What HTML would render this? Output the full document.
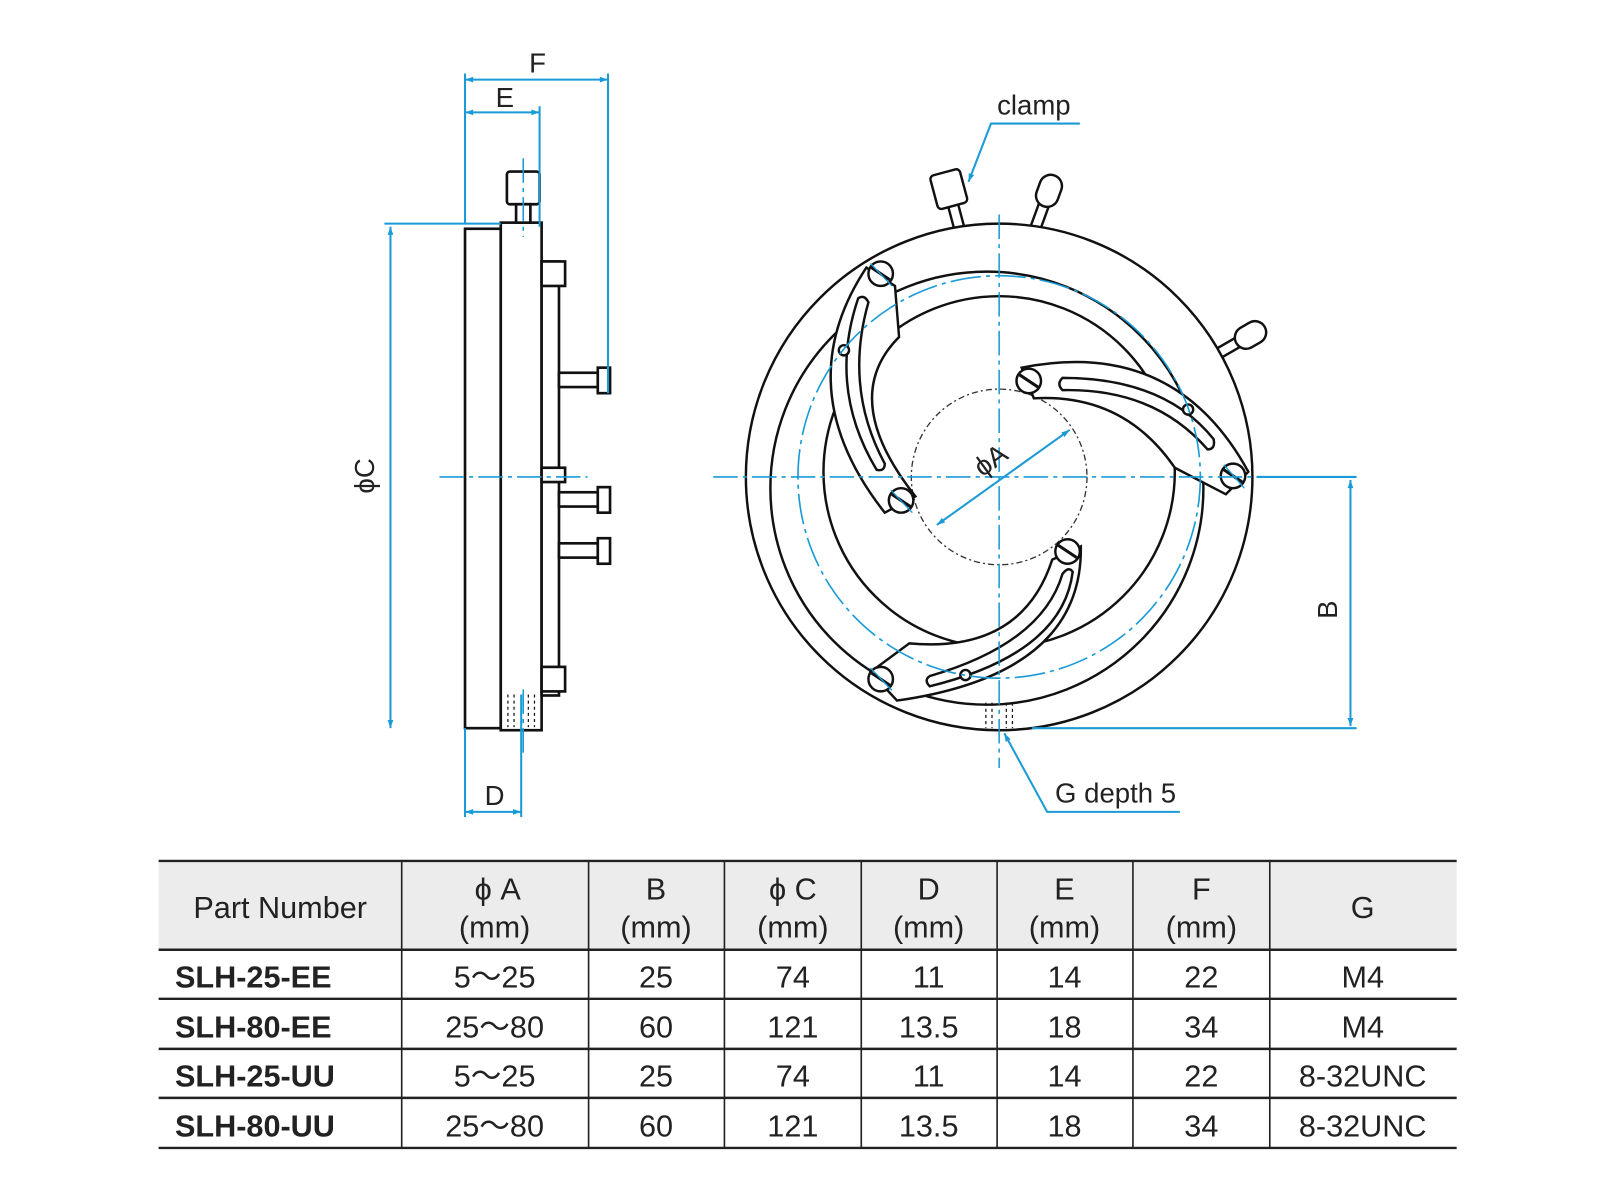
<!DOCTYPE html>
<html><head><meta charset="utf-8"><style>
html,body{margin:0;padding:0;background:#fff}
svg{display:block}
text{font-family:"Liberation Sans",sans-serif}
</style></head><body>
<svg width="1600" height="1200" viewBox="0 0 1566 1175" xmlns="http://www.w3.org/2000/svg">
<defs>
<marker id="ar" viewBox="0 0 10 10" refX="10" refY="5" markerWidth="12" markerHeight="8" orient="auto-start-reverse" markerUnits="userSpaceOnUse"><path d="M0,1.5 L10,5 L0,8.5 Z" fill="#1a9ad6"/></marker>
</defs>
<g fill="#fff" stroke="#111" stroke-width="2.6">
<rect x="455" y="224" width="35" height="489"/>
<rect x="490" y="218" width="40" height="497"/>
<rect x="530" y="256" width="17" height="425"/>
<rect x="496" y="168" width="32" height="32" rx="3"/>
<rect x="505" y="200" width="14" height="18"/>
<rect x="530" y="256" width="23" height="24"/>
<rect x="530" y="653" width="23" height="24"/>
<rect x="530" y="458" width="23" height="14"/>
<g>
<rect x="547" y="365" width="38" height="14"/><rect x="585" y="360" width="12" height="25"/>
<rect x="547" y="482" width="38" height="14"/><rect x="585" y="477" width="12" height="25"/>
<rect x="547" y="532" width="38" height="14"/><rect x="585" y="527" width="12" height="25"/>
</g>
</g>
<g stroke="#111" stroke-width="1.2" stroke-dasharray="3,3">
<line x1="497" y1="680" x2="497" y2="712"/><line x1="503" y1="680" x2="503" y2="712"/>
<line x1="517" y1="680" x2="517" y2="712"/><line x1="523" y1="680" x2="523" y2="712"/>
</g>
<g fill="#fff" stroke="#111" stroke-width="2.4">
<g transform="translate(930,190) rotate(-15)"><rect x="-5" y="10" width="10" height="28"/><rect x="-15" y="-22" width="30" height="34" rx="4"/></g>
<g transform="translate(1022,200) rotate(20)"><rect x="-5" y="0" width="10" height="28"/><rect x="-11" y="-30" width="22" height="32" rx="11"/></g>
<g transform="translate(1212,335) rotate(60)"><rect x="-5" y="0" width="10" height="28"/><rect x="-11" y="-30" width="22" height="32" rx="11"/></g>
<circle cx="978" cy="467" r="248"/>
<circle cx="966" cy="478" r="212" fill="none"/>
<circle cx="978" cy="462" r="172" fill="none"/>
</g>
<circle cx="978" cy="467" r="86" fill="none" stroke="#333" stroke-width="1.3" stroke-dasharray="6,3,2,3"/>
<g fill="#fff" stroke="#111" stroke-width="2.4">
<path d="M848,262 Q770,380 866,502 L896,486 Q820,390 880,330 L876,280 Z"/>
<path d="M840,292 Q810,380 858,460 Q866,462 866,454 Q826,380 850,296 Q846,288 840,292 Z"/>
<path d="M1000,360 Q1150,330 1222,462 L1200,484 L1150,458 Q1100,385 1012,390 Z"/>
<path d="M1040,370 Q1140,370 1188,430 Q1190,440 1182,440 Q1130,380 1040,382 Q1034,376 1040,370 Z"/>
<path d="M1058,535 Q1060,660 878,686 L852,658 L890,630 Q1000,640 1030,548 Z"/>
<path d="M1050,560 Q1040,640 910,672 Q904,666 910,662 Q1020,630 1040,562 Q1046,554 1050,560 Z"/>
<circle cx="862" cy="268" r="12"/><circle cx="882" cy="490" r="12"/>
<circle cx="1007" cy="373" r="12"/><circle cx="1207" cy="466" r="12"/>
<circle cx="1045" cy="540" r="12"/><circle cx="862" cy="665" r="12"/>
<circle cx="826" cy="343" r="5"/><circle cx="1163" cy="401" r="5"/><circle cx="945" cy="661" r="5"/>
</g>
<g stroke="#111" stroke-width="3">
<line x1="853" y1="262" x2="871" y2="274"/><line x1="873" y1="484" x2="891" y2="496"/>
<line x1="998" y1="367" x2="1016" y2="379"/><line x1="1198" y1="460" x2="1216" y2="472"/>
<line x1="1036" y1="534" x2="1054" y2="546"/><line x1="853" y1="659" x2="871" y2="671"/>
</g>
<g stroke="#111" stroke-width="1.2" stroke-dasharray="3,3">
<line x1="965" y1="688" x2="965" y2="713"/><line x1="971" y1="688" x2="971" y2="713"/>
<line x1="985" y1="688" x2="985" y2="713"/><line x1="991" y1="688" x2="991" y2="713"/>
</g>
<g fill="none" stroke="#1a9ad6" stroke-width="2">
<line x1="455" y1="78" x2="595" y2="78" marker-start="url(#ar)" marker-end="url(#ar)"/>
<line x1="455" y1="110" x2="528" y2="110" marker-start="url(#ar)" marker-end="url(#ar)"/>
<line x1="455" y1="72" x2="455" y2="220"/>
<line x1="595" y1="72" x2="595" y2="385"/>
<line x1="528" y1="104" x2="528" y2="222"/>
<line x1="382" y1="222" x2="382" y2="713" marker-start="url(#ar)" marker-end="url(#ar)"/>
<line x1="376" y1="219" x2="490" y2="219"/>
<line x1="455" y1="795" x2="510" y2="795" marker-start="url(#ar)" marker-end="url(#ar)"/>
<line x1="455" y1="713" x2="455" y2="800"/>
<line x1="510" y1="680" x2="510" y2="800"/>
<line x1="1322" y1="470" x2="1322" y2="711" marker-start="url(#ar)" marker-end="url(#ar)"/>
<line x1="1230" y1="467" x2="1328" y2="467"/>
<line x1="1010" y1="713" x2="1328" y2="713"/>
<line x1="917" y1="514" x2="1047" y2="421" marker-start="url(#ar)" marker-end="url(#ar)"/>
<polyline points="1057,121 970,121 948,178" marker-end="url(#ar)"/>
<polyline points="1155,795 1025,795 983,718" marker-end="url(#ar)"/>
<circle cx="978" cy="467" r="197" stroke-width="1.6" stroke-dasharray="30,5,4,5"/>
</g>
<g fill="none" stroke="#1a9ad6" stroke-width="1.5" stroke-dasharray="24,5,4,5">
<line x1="430" y1="467" x2="575" y2="467"/>
<line x1="698" y1="467" x2="1265" y2="467"/>
<line x1="978" y1="210" x2="978" y2="752"/>
<line x1="512" y1="155" x2="512" y2="232"/>
<line x1="512" y1="675" x2="512" y2="740"/>
</g>
<g fill="none" stroke="#1a9ad6" stroke-width="1.3">
<line x1="852" y1="258" x2="873" y2="280"/><line x1="872" y1="480" x2="893" y2="502"/>
<line x1="1198" y1="455" x2="1218" y2="478"/><line x1="852" y1="654" x2="873" y2="676"/>
</g>
<g fill="#222" font-size="27">
<text x="526" y="71" text-anchor="middle">F</text>
<text x="494" y="105" text-anchor="middle">E</text>
<text x="484" y="788" text-anchor="middle">D</text>
<text x="366" y="466" text-anchor="middle" transform="rotate(-90 366 466)">ϕC</text>
<text x="1309" y="597" text-anchor="middle" transform="rotate(-90 1309 597)">B</text>
<text x="975" y="458" text-anchor="middle" transform="rotate(-36 975 458)">ϕA</text>
<text x="1012" y="112" text-anchor="middle">clamp</text>
<text x="1092" y="786" text-anchor="middle">G depth 5</text>
</g>
<rect x="155" y="843" width="1271" height="87" fill="#ececec"/>
<g stroke="#222" stroke-width="2.4">
<line x1="155" y1="843" x2="1426" y2="843"/>
<line x1="155" y1="930" x2="1426" y2="930"/>
<line x1="155" y1="978" x2="1426" y2="978"/>
<line x1="155" y1="1027" x2="1426" y2="1027"/>
<line x1="155" y1="1075" x2="1426" y2="1075"/>
<line x1="155" y1="1124" x2="1426" y2="1124"/>
</g>
<g stroke="#222" stroke-width="1.6">
<line x1="393" y1="843" x2="393" y2="1124"/><line x1="576" y1="843" x2="576" y2="1124"/>
<line x1="709" y1="843" x2="709" y2="1124"/><line x1="843" y1="843" x2="843" y2="1124"/>
<line x1="976" y1="843" x2="976" y2="1124"/><line x1="1109" y1="843" x2="1109" y2="1124"/>
<line x1="1243" y1="843" x2="1243" y2="1124"/>
</g>
<g fill="#222" font-size="30" text-anchor="middle">
<text x="274" y="899">Part Number</text>
<text x="487" y="881">ϕ A</text><text x="484" y="918">(mm)</text>
<text x="642" y="881">B</text><text x="642" y="918">(mm)</text>
<text x="776" y="881">ϕ C</text><text x="776" y="918">(mm)</text>
<text x="909" y="881">D</text><text x="909" y="918">(mm)</text>
<text x="1042" y="881">E</text><text x="1042" y="918">(mm)</text>
<text x="1176" y="881">F</text><text x="1176" y="918">(mm)</text>
<text x="1334" y="899">G</text>
</g>
<g fill="#222" font-size="30" font-weight="bold">
<text x="171" y="967">SLH-25-EE</text><text x="171" y="1016">SLH-80-EE</text>
<text x="171" y="1064">SLH-25-UU</text><text x="171" y="1113">SLH-80-UU</text>
</g>
<g fill="#222" font-size="30" text-anchor="middle">
<text x="484" y="967">5～25</text><text x="642" y="967">25</text><text x="776" y="967">74</text><text x="909" y="967">11</text><text x="1042" y="967">14</text><text x="1176" y="967">22</text><text x="1334" y="967">M4</text>
<text x="484" y="1016">25～80</text><text x="642" y="1016">60</text><text x="776" y="1016">121</text><text x="909" y="1016">13.5</text><text x="1042" y="1016">18</text><text x="1176" y="1016">34</text><text x="1334" y="1016">M4</text>
<text x="484" y="1064">5～25</text><text x="642" y="1064">25</text><text x="776" y="1064">74</text><text x="909" y="1064">11</text><text x="1042" y="1064">14</text><text x="1176" y="1064">22</text><text x="1334" y="1064">8-32UNC</text>
<text x="484" y="1113">25～80</text><text x="642" y="1113">60</text><text x="776" y="1113">121</text><text x="909" y="1113">13.5</text><text x="1042" y="1113">18</text><text x="1176" y="1113">34</text><text x="1334" y="1113">8-32UNC</text>
</g>
</svg>
</body></html>
